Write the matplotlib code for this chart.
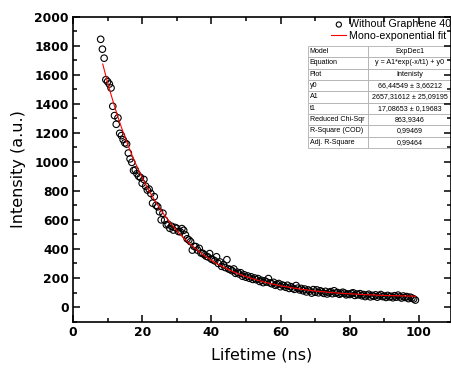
import numpy as np
import matplotlib
matplotlib.use('Agg')
import matplotlib.pyplot as plt
from matplotlib.ticker import MultipleLocator

# Measured decay (sampled every 0.5 ns)
lifetime = [
    8.0, 8.5, 9.0, 9.5, 10.0, 10.5, 11.0, 11.5, 12.0, 12.5,
    13.0, 13.5, 14.0, 14.5, 15.0, 15.5, 16.0, 16.5, 17.0, 17.5,
    18.0, 18.5, 19.0, 19.5, 20.0, 20.5, 21.0, 21.5, 22.0, 22.5,
    23.0, 23.5, 24.0, 24.5, 25.0, 25.5, 26.0, 26.5, 27.0, 27.5,
    28.0, 28.5, 29.0, 29.5, 30.0, 30.5, 31.0, 31.5, 32.0, 32.5,
    33.0, 33.5, 34.0, 34.5, 35.0, 35.5, 36.0, 36.5, 37.0, 37.5,
    38.0, 38.5, 39.0, 39.5, 40.0, 40.5, 41.0, 41.5, 42.0, 42.5,
    43.0, 43.5, 44.0, 44.5, 45.0, 45.5, 46.0, 46.5, 47.0, 47.5,
    48.0, 48.5, 49.0, 49.5, 50.0, 50.5, 51.0, 51.5, 52.0, 52.5,
    53.0, 53.5, 54.0, 54.5, 55.0, 55.5, 56.0, 56.5, 57.0, 57.5,
    58.0, 58.5, 59.0, 59.5, 60.0, 60.5, 61.0, 61.5, 62.0, 62.5,
    63.0, 63.5, 64.0, 64.5, 65.0, 65.5, 66.0, 66.5, 67.0, 67.5,
    68.0, 68.5, 69.0, 69.5, 70.0, 70.5, 71.0, 71.5, 72.0, 72.5,
    73.0, 73.5, 74.0, 74.5, 75.0, 75.5, 76.0, 76.5, 77.0, 77.5,
    78.0, 78.5, 79.0, 79.5, 80.0, 80.5, 81.0, 81.5, 82.0, 82.5,
    83.0, 83.5, 84.0, 84.5, 85.0, 85.5, 86.0, 86.5, 87.0, 87.5,
    88.0, 88.5, 89.0, 89.5, 90.0, 90.5, 91.0, 91.5, 92.0, 92.5,
    93.0, 93.5, 94.0, 94.5, 95.0, 95.5, 96.0, 96.5, 97.0, 97.5,
    98.0, 98.5, 99.0,
]
intensity = [
    1843, 1775, 1713, 1565, 1552, 1535, 1508, 1382, 1318, 1258,
    1302, 1196, 1180, 1152, 1130, 1122, 1060, 1020, 996, 940,
    944, 918, 900, 892, 852, 878, 832, 805, 812, 782,
    715, 760, 700, 690, 656, 600, 646, 598, 566, 570,
    542, 556, 530, 548, 542, 520, 518, 540, 528, 496,
    470, 462, 450, 392, 418, 416, 392, 404, 372, 370,
    360, 350, 345, 368, 330, 325, 318, 346, 300, 310,
    280, 292, 272, 326, 262, 258, 250, 262, 232, 240,
    228, 236, 212, 222, 205, 214, 198, 208, 190, 200,
    188, 196, 176, 184, 168, 180, 172, 196, 166, 160,
    170, 150, 156, 162, 140, 152, 146, 136, 150, 128,
    140, 130, 122, 148, 130, 118, 128, 112, 124, 104,
    118, 110, 96, 120, 102, 118, 98, 112, 104, 94,
    108, 90, 100, 106, 92, 112, 96, 100, 88, 94,
    102, 96, 84, 90, 86, 94, 98, 80, 90, 84,
    92, 78, 86, 72, 82, 88, 70, 80, 74, 84,
    68, 78, 86, 72, 76, 66, 80, 70, 74, 64,
    78, 68, 82, 70, 62, 76, 66, 72, 58, 68,
    62, 56, 48,
]

# Mono-exponential fit curve as drawn
fit_x = [8.6, 9, 10, 11, 12, 13, 14, 15, 16, 17, 18, 19, 20, 22, 24, 26, 28, 30,
         32, 34, 36, 38, 40, 42, 44, 46, 48, 50, 55, 60, 65, 70, 75, 80, 85, 90, 95, 99]
fit_y = [1673, 1636, 1546, 1462, 1383, 1308, 1237, 1171, 1108, 1049, 993, 940, 891,
         800, 719, 647, 583, 526, 475, 430, 390, 354, 322, 294, 269, 246, 227, 209,
         173, 146, 126, 110, 99, 91, 85, 80, 77, 74.5]

# Fit report table
table_rows = [
    ['Model', 'ExpDec1'],
    ['Equation', 'y = A1*exp(-x/t1) + y0'],
    ['Plot', 'Intenisty'],
    ['y0', '66,44549 \u00b1 3,66212'],
    ['A1', '2657,31612 \u00b1 25,09195'],
    ['t1', '17,08653 \u00b1 0,19683'],
    ['Reduced Chi-Sqr', '863,9346'],
    ['R-Square (COD)', '0,99469'],
    ['Adj. R-Square', '0,99464'],
]

fig = plt.figure(figsize=(4.52, 3.74), dpi=100)
ax = fig.add_axes([73 / 452, 52 / 374, 378 / 452, 305.5 / 374])

ax.scatter(lifetime, intensity, s=22, facecolors='none', edgecolors='black',
           linewidths=0.8, label='Without Graphene 40', zorder=3)
ax.plot(fit_x, fit_y, color='red', lw=0.8, label='Mono-exponential fit', zorder=4)

ax.set_xlim(0, 109.3)
ax.set_ylim(-103, 2000)
ax.xaxis.set_major_locator(MultipleLocator(20))
ax.xaxis.set_minor_locator(MultipleLocator(10))
ax.yaxis.set_major_locator(MultipleLocator(200))
ax.yaxis.set_minor_locator(MultipleLocator(100))
ax.tick_params(which='both', direction='in', top=True, right=True, width=1.1)
ax.tick_params(which='major', length=5, labelsize=8.8, pad=3)
ax.tick_params(which='minor', length=3)
for lab in ax.get_xticklabels() + ax.get_yticklabels():
    lab.set_fontweight('bold')
for sp in ax.spines.values():
    sp.set_linewidth(1.2)

ax.set_xlabel('Lifetime (ns)', fontsize=11.5)
ax.set_ylabel('Intensity (a.u.)', fontsize=11.5)
ax.xaxis.set_label_coords(0.5, -0.085)
ax.yaxis.set_label_coords(-0.125, 0.5)

ax.legend(loc='upper left', bbox_to_anchor=(326 / 452, 1 - 14 / 374),
          bbox_transform=fig.transFigure, frameon=False, borderpad=0,
          handlelength=1.4, handletextpad=0.25, labelspacing=0.15,
          prop={'family': 'Liberation Sans', 'size': 7.7}, markerscale=0.8)

tbl = ax.table(cellText=table_rows, colWidths=[0.415, 0.585], cellLoc='center',
               bbox=[(308 - 73) / 378, (322 - 148) / 305.5, 144 / 378, 102 / 305.5])
tbl.auto_set_font_size(False)
for (r, c), cell in tbl.get_celld().items():
    cell.set_edgecolor('#b0b0b0')
    cell.set_linewidth(0.6)
    cell.set_facecolor('white')
    txt = cell.get_text()
    txt.set_fontsize(5.1)
    txt.set_fontfamily('Liberation Sans')
    if c == 0:
        txt.set_ha('left')
        cell.PAD = 0.03

fig.savefig('out.png', dpi=100)
